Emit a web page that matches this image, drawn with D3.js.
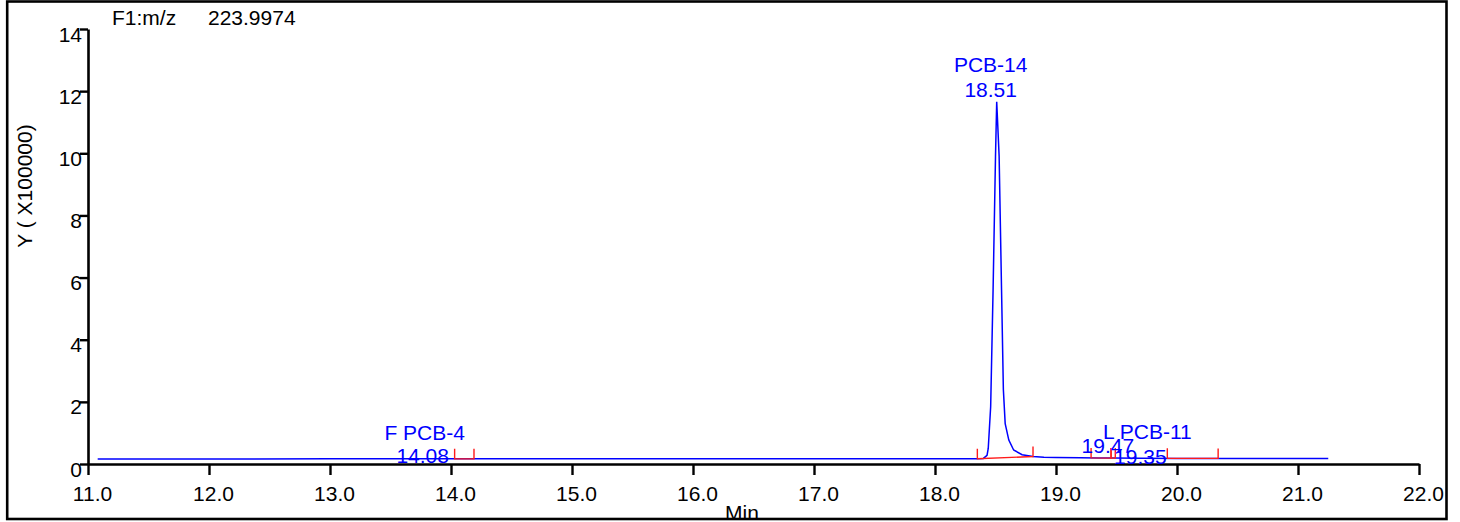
<!DOCTYPE html>
<html>
<head>
<meta charset="utf-8">
<script src="https://cdn.jsdelivr.net/npm/d3@7/dist/d3.min.js"></script>
<style>
  html, body { margin: 0; padding: 0; background: #fff; }
  svg { display: block; font-family: "Liberation Sans", Arial, Helvetica, sans-serif; }
</style>
</head>
<body>
<svg id="chart" width="1460" height="522"></svg>
<script>
// Extracted ion chromatogram, m/z 223.9974 (intensity in units of 100000)
const retentionTime = [11.08, 12.0, 13.0, 14.0, 14.08, 15.0, 16.0, 17.0, 18.0, 18.35, 18.40, 18.43, 18.44,
  18.46, 18.48, 18.50, 18.51, 18.53, 18.55, 18.565, 18.58, 18.61, 18.65, 18.72, 18.81, 18.9, 19.0,
  19.2, 19.35, 19.47, 19.7, 20.0, 20.5, 21.0, 21.25];
const intensity = [0.16, 0.16, 0.165, 0.165, 0.165, 0.165, 0.165, 0.17, 0.17, 0.17, 0.18, 0.28, 0.5,
  1.84, 5.6, 9.9, 11.66, 9.9, 5.6, 2.4, 1.3, 0.77, 0.45, 0.3, 0.24, 0.22, 0.21,
  0.2, 0.195, 0.19, 0.185, 0.18, 0.18, 0.18, 0.18];

// Integrated peaks: retention time, compound label (with flag)
const peakRT = [14.08, 18.51, 19.47, 19.35];
const peakName = ["F PCB-4", "PCB-14", "", "L PCB-11"];

// Integration baseline segments (start / end, minutes)
const intStart = [14.03, 18.35, 19.29, 19.455, 19.92];
const intEnd = [14.19, 18.81, 19.455, 19.49, 20.34];

// Axis ticks
const xTicks = [11, 12, 13, 14, 15, 16, 17, 18, 19, 20, 21, 22];
const yTicks = [0, 2, 4, 6, 8, 10, 12, 14];

// Label placement offsets in px relative to each peak apex (layout only)
const labelLayout = [
  { nameDx: -36, nameDy: -19, rtDx: -38, rtDy: 4 },
  { nameDx: -6, nameDy: -30, rtDx: -6, rtDy: -5 },
  { nameDx: 0, nameDy: 0, rtDx: -5, rtDy: -5 },
  { nameDx: 49, nameDy: -19, rtDx: 42, rtDy: 6 }
];

const svg = d3.select("#chart");
const FONT = 21;
const BLUE = "#0000ff";
const RED = "#ff1a1a";

const x = d3.scaleLinear().domain([11, 22]).range([88, 1419]);
const y = d3.scaleLinear().domain([0, 14]).range([464, 29]);

const series = retentionTime.map((t, i) => ({ t, v: intensity[i] }));
const bis = d3.bisector(d => d.t).left;
function valueAt(t) {
  const i = bis(series, t);
  if (i <= 0) return series[0].v;
  if (i >= series.length) return series[series.length - 1].v;
  const a = series[i - 1], b = series[i];
  if (b.t === t) return b.v;
  return a.v + (b.v - a.v) * (t - a.t) / (b.t - a.t);
}

// Header
svg.append("text").attr("x", 112).attr("y", 25).attr("font-size", FONT).text("F1:m/z");
svg.append("text").attr("x", 208).attr("y", 25).attr("font-size", FONT).text("223.9974");

// Axes
const xAxis = svg.append("g").attr("transform", `translate(0,${y(0)})`)
  .call(d3.axisBottom(x).tickValues(xTicks).tickFormat(d3.format(".1f")).tickSize(11).tickSizeOuter(0));
xAxis.select(".domain").attr("stroke", "#000").attr("stroke-width", 2.6);
xAxis.selectAll(".tick line").attr("stroke", "#000").attr("stroke-width", 2.4);
xAxis.selectAll(".tick text").attr("font-size", FONT).attr("font-family", null)
  .attr("fill", "#000").attr("y", 37).attr("dy", 0).attr("dx", 4);

const yAxis = svg.append("g").attr("transform", `translate(${x(11)},0)`)
  .call(d3.axisLeft(y).tickValues(yTicks).tickFormat(d3.format("d")).tickSize(8).tickSizeOuter(0));
yAxis.select(".domain").attr("stroke", "#000").attr("stroke-width", 2.6);
yAxis.selectAll(".tick line").attr("stroke", "#000").attr("stroke-width", 2.4);
yAxis.selectAll(".tick text").attr("font-size", FONT).attr("font-family", null)
  .attr("fill", "#000").attr("x", -6).attr("dy", 12);

// Axis titles
svg.append("text").attr("transform", "translate(32,186) rotate(-90)")
  .attr("text-anchor", "middle").attr("font-size", FONT).text("Y ( X100000)");
svg.append("text").attr("x", 742).attr("y", 520)
  .attr("text-anchor", "middle").attr("font-size", FONT).text("Min");

// Chromatogram trace
const line = d3.line().x(d => x(d.t)).y(d => y(d.v));
svg.append("path").datum(series).attr("d", line)
  .attr("fill", "none").attr("stroke", BLUE).attr("stroke-width", 1.5);

// Integration baselines with end markers
const marks = svg.append("g").attr("stroke", RED).attr("stroke-width", 1.4).attr("fill", "none");
intStart.forEach((s, i) => {
  const e = intEnd[i];
  const x0 = x(s), x1 = x(e), y0 = y(valueAt(s)), y1 = y(valueAt(e));
  marks.append("path").attr("d", `M${x0},${y0 - 10}L${x0},${y0}L${x1},${y1}L${x1},${y1 - 10}`);
});

// Peak labels
const labels = svg.append("g").attr("fill", BLUE).attr("font-size", FONT).attr("text-anchor", "middle");
peakRT.forEach((rt, i) => {
  const px = x(rt), py = y(valueAt(rt)), L = labelLayout[i];
  if (peakName[i]) {
    labels.append("text").attr("x", px + L.nameDx).attr("y", py + L.nameDy).text(peakName[i]);
  }
  labels.append("text").attr("x", px + L.rtDx).attr("y", py + L.rtDy).text(d3.format(".2f")(rt));
});

// Outer frame
svg.append("rect").attr("x", 7.2).attr("y", 1.5).attr("width", 1439.3).attr("height", 517.5)
  .attr("fill", "none").attr("stroke", "#000").attr("stroke-width", 2.6);
</script>
</body>
</html>
